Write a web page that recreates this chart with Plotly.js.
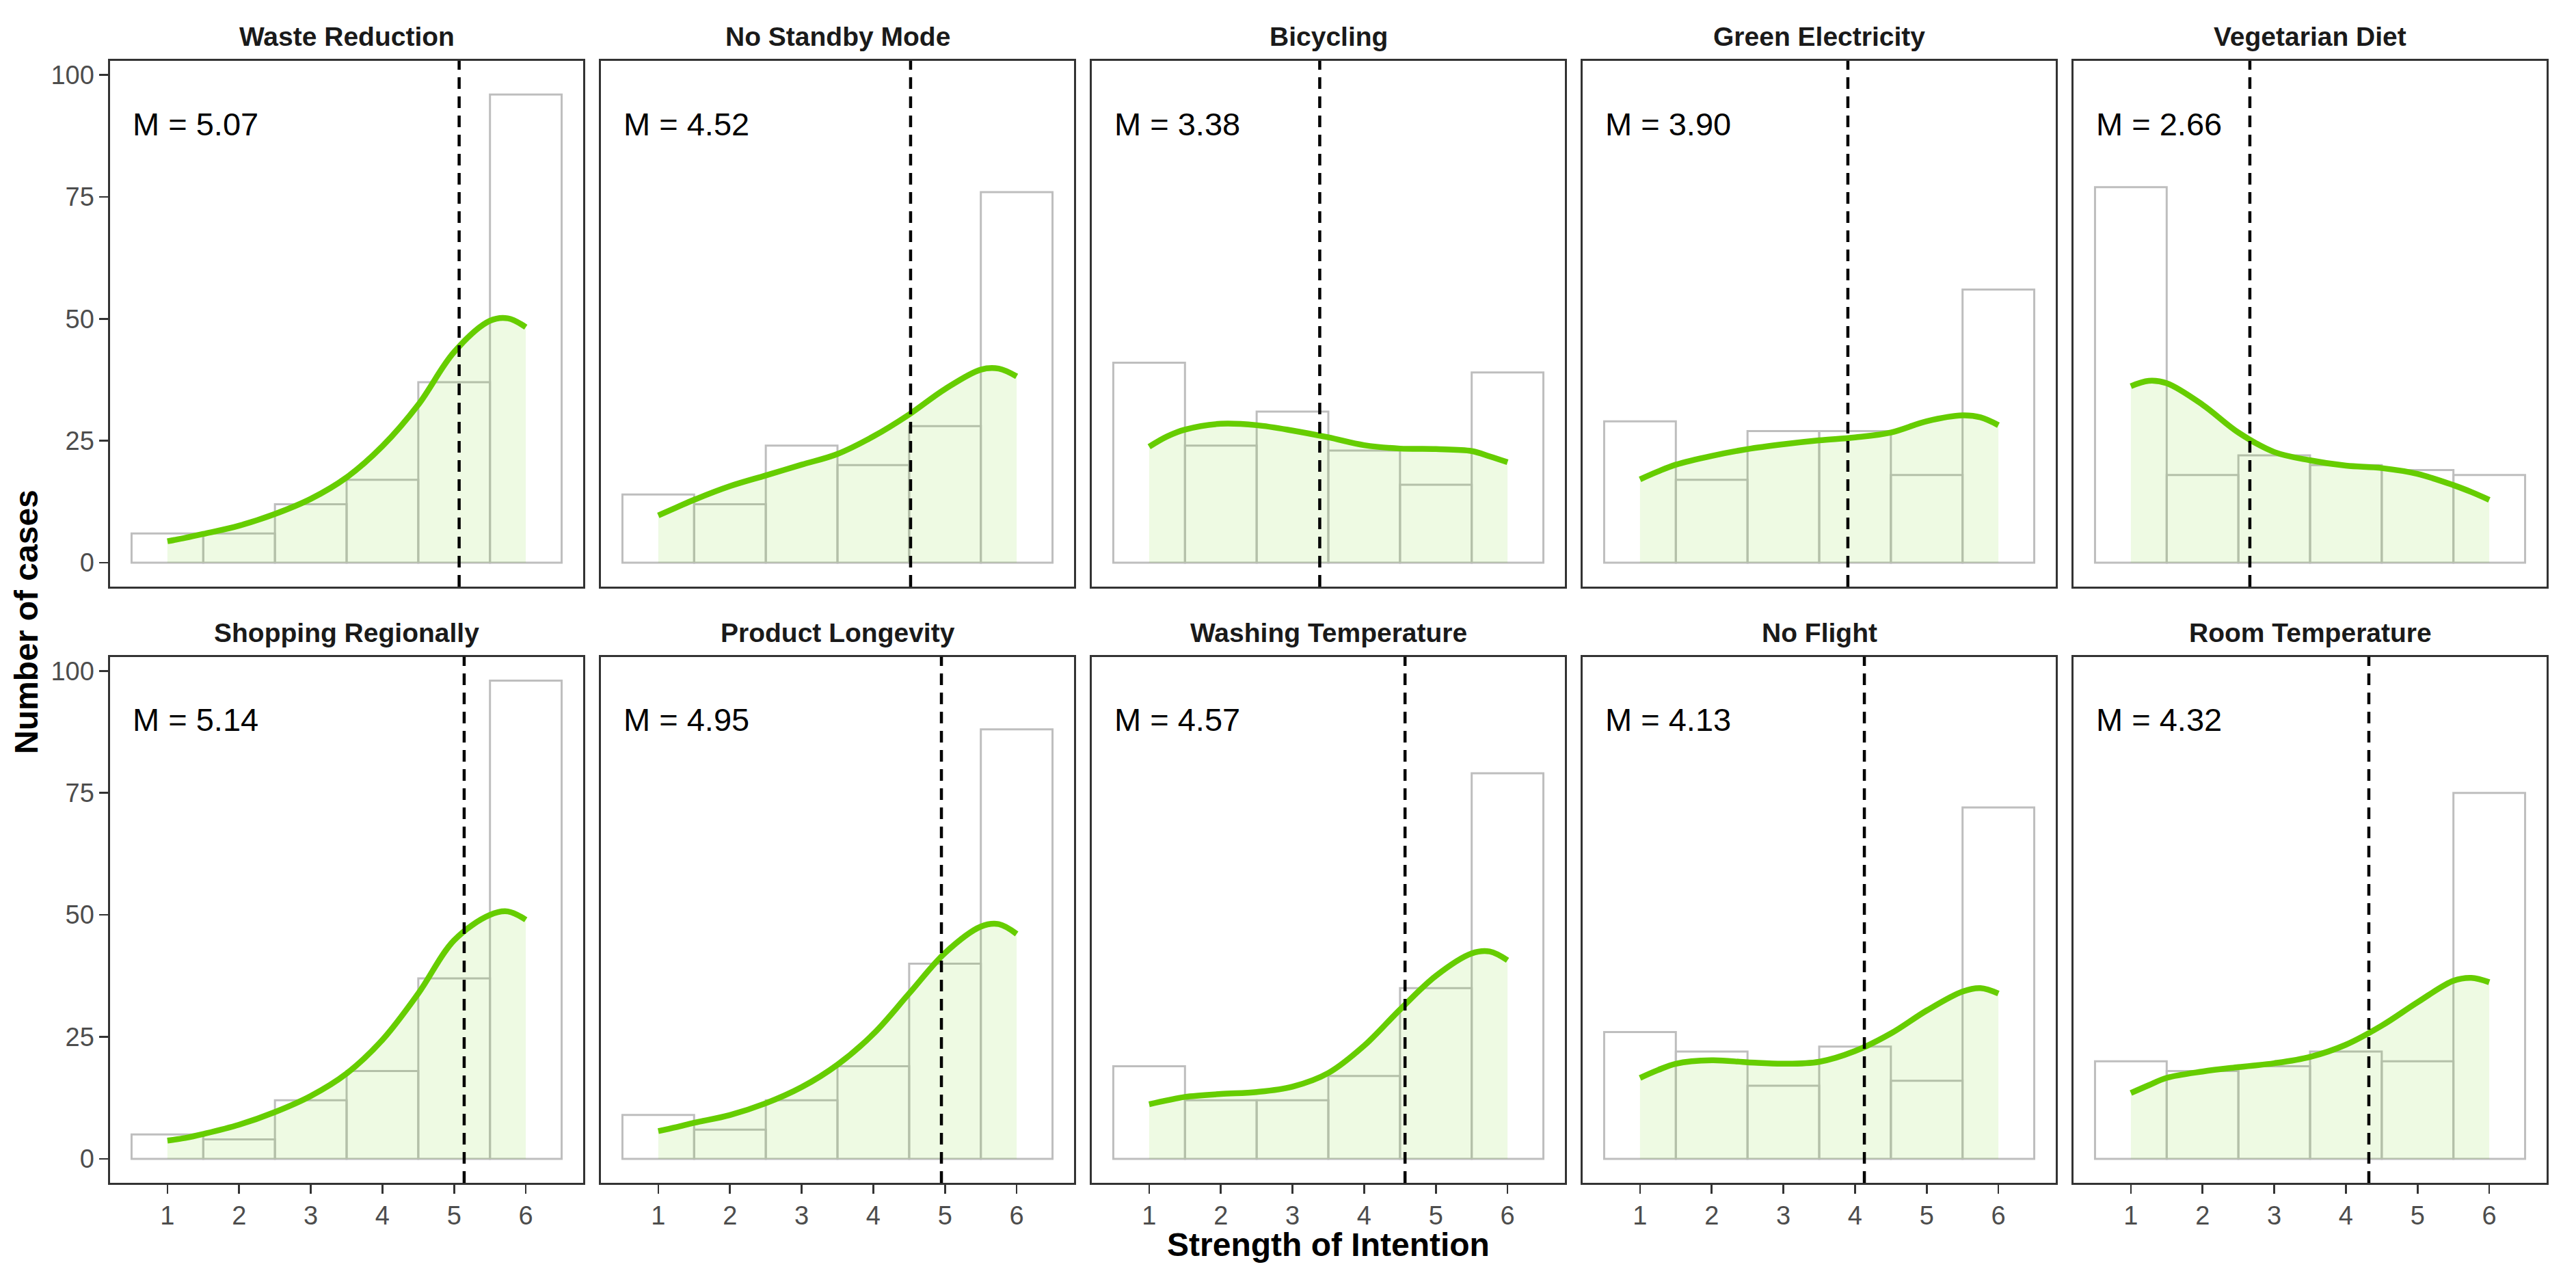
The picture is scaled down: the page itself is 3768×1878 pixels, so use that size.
<!DOCTYPE html>
<html>
<head>
<meta charset="utf-8">
<script src="https://cdn.plot.ly/plotly-3.0.1.min.js"></script>
<style>html,body{margin:0;padding:0;background:#fff;}#chart{width:3768px;height:1878px;}</style>
</head>
<body>
<div id="chart"></div>
<script>
// ---------------- data ----------------
const behaviors = ["Waste Reduction","No Standby Mode","Bicycling","Green Electricity","Vegetarian Diet",
                   "Shopping Regionally","Product Longevity","Washing Temperature","No Flight","Room Temperature"];
const means = [5.07, 4.52, 3.38, 3.90, 2.66, 5.14, 4.95, 4.57, 4.13, 4.32];
const intentionLevels = [1, 2, 3, 4, 5, 6];

const countsWasteReduction     = [6, 6, 12, 17, 37, 96];
const countsNoStandby          = [14, 12, 24, 20, 28, 76];
const countsBicycling          = [41, 24, 31, 23, 16, 39];
const countsGreenElectricity   = [29, 17, 27, 27, 18, 56];
const countsVegetarian         = [77, 18, 22, 20, 19, 18];
const countsShoppingRegionally = [5, 4, 12, 18, 37, 98];
const countsProductLongevity   = [9, 6, 12, 19, 40, 88];
const countsWashingTemperature = [19, 12, 12, 17, 35, 79];
const countsNoFlight           = [26, 22, 15, 23, 16, 72];
const countsRoomTemperature    = [20, 18, 19, 22, 20, 75];

const densityX = [1, 1.25, 1.5, 2, 2.5, 3, 3.5, 4, 4.5, 5, 5.5, 5.75, 6];
const densWasteReduction     = [4.4, 5.1, 5.9, 7.6, 10.0, 13.1, 17.5, 23.9, 32.4, 43.2, 49.6, 50.1, 48.3];
const densNoStandby          = [9.7, 11.3, 12.9, 15.7, 17.9, 20.1, 22.3, 25.9, 30.4, 35.6, 39.6, 39.8, 38.2];
const densBicycling          = [23.8, 25.9, 27.3, 28.5, 28.2, 27.1, 25.7, 24.1, 23.4, 23.3, 22.9, 21.8, 20.6];
const densGreenElectricity   = [17.1, 18.7, 20.1, 21.9, 23.3, 24.3, 25.1, 25.7, 26.7, 29.0, 30.2, 29.8, 28.2];
const densVegetarian         = [36.2, 37.3, 36.8, 32.4, 26.7, 22.7, 21.0, 19.9, 19.4, 18.2, 15.9, 14.5, 12.9];
const densShoppingRegionally = [3.75, 4.3, 5.1, 7.0, 9.6, 12.9, 17.5, 24.4, 33.9, 44.8, 50.0, 50.7, 49.0];
const densProductLongevity   = [5.7, 6.5, 7.4, 9.0, 11.4, 14.7, 19.3, 25.6, 33.9, 42.2, 47.6, 48.1, 46.1];
const densWashingTemperature = [11.2, 12.0, 12.7, 13.3, 13.7, 14.8, 17.6, 23.2, 30.6, 37.5, 42.1, 42.5, 40.7];
const densNoFlight           = [16.6, 18.2, 19.5, 20.2, 19.8, 19.5, 19.9, 22.1, 25.7, 30.4, 34.3, 35.0, 33.9];
const densRoomTemperature    = [13.5, 15.1, 16.6, 17.9, 18.8, 19.6, 20.9, 23.4, 27.3, 32.1, 36.5, 37.1, 36.2];

const yTickVals = [0, 25, 50, 75, 100];
const xTickVals = [1, 2, 3, 4, 5, 6];
const xTitle = "Strength of Intention";
const yTitle = "Number of cases";

// ---------------- build ----------------
const counts = [countsWasteReduction, countsNoStandby, countsBicycling, countsGreenElectricity, countsVegetarian,
                countsShoppingRegionally, countsProductLongevity, countsWashingTemperature, countsNoFlight, countsRoomTemperature];
const dens = [densWasteReduction, densNoStandby, densBicycling, densGreenElectricity, densVegetarian,
              densShoppingRegionally, densProductLongevity, densWashingTemperature, densNoFlight, densRoomTemperature];

const W = 3768, H = 1878;
const cols = [[161, 853], [879, 1571], [1597, 2289], [2315, 3007], [3033, 3725]];
const rows = [[89, 858], [960.5, 1730]];
const stripY = [53, 925];
const FONT = "Liberation Sans, Arial, sans-serif";
const GREEN = "#66CD00";

const data = [];
const layout = {
  width: W, height: H,
  margin: {l: 0, r: 0, t: 0, b: 0},
  paper_bgcolor: "#ffffff", plot_bgcolor: "#ffffff",
  showlegend: false,
  annotations: [], shapes: []
};

for (let i = 0; i < 10; i++) {
  const r = Math.floor(i / 5), c = i % 5;
  const sfx = i === 0 ? "" : String(i + 1);
  const xa = "x" + sfx, ya = "y" + sfx;

  data.push({
    type: "scatter", mode: "lines", x: densityX, y: dens[i], xaxis: xa, yaxis: ya,
    line: {width: 0, shape: "spline", color: "rgba(0,0,0,0)"},
    fill: "tozeroy", fillcolor: "rgba(102,205,0,0.11)", hoverinfo: "skip"
  });
  data.push({
    type: "bar", x: intentionLevels, y: counts[i], xaxis: xa, yaxis: ya, width: 1,
    marker: {color: "rgba(0,0,0,0)", line: {color: "#BEBEBE", width: 3}}, hoverinfo: "skip"
  });
  data.push({
    type: "scatter", mode: "lines", x: densityX, y: dens[i], xaxis: xa, yaxis: ya,
    line: {width: 8.5, shape: "spline", color: GREEN}, hoverinfo: "skip"
  });

  const xd = [cols[c][0] / W, cols[c][1] / W];
  const yd = [1 - rows[r][1] / H, 1 - rows[r][0] / H];
  const isBottom = r === 1, isLeft = c === 0;

  layout["xaxis" + sfx] = {
    domain: xd, anchor: ya, range: [0.2, 6.8],
    showgrid: false, zeroline: false,
    showline: true, mirror: true, linecolor: "#333333", linewidth: 2.6,
    tickmode: "array", tickvals: xTickVals,
    ticks: isBottom ? "outside" : "", ticklen: 13, tickwidth: 2.6, tickcolor: "#333333",
    showticklabels: isBottom,
    tickfont: {family: FONT, size: 38, color: "#4D4D4D"}
  };
  layout["yaxis" + sfx] = {
    domain: yd, anchor: xa, range: [-4.9, 102.9],
    showgrid: false, zeroline: false,
    showline: true, mirror: true, linecolor: "#333333", linewidth: 2.6,
    tickmode: "array", tickvals: yTickVals,
    ticks: isLeft ? "outside" : "", ticklen: 13, tickwidth: 2.6, tickcolor: "#333333",
    showticklabels: isLeft,
    tickfont: {family: FONT, size: 38, color: "#4D4D4D"}
  };

  // mean line
  layout.shapes.push({
    type: "line", xref: xa, yref: ya + " domain", x0: means[i], x1: means[i], y0: 0, y1: 1,
    line: {color: "#000000", width: 4.5, dash: "17px,11px"}
  });
  // mean label
  layout.annotations.push({
    xref: xa, yref: ya, x: 0.5, y: 90, xanchor: "left", yanchor: "middle",
    text: "M = " + means[i].toFixed(2), showarrow: false,
    font: {family: FONT, size: 47, color: "#000000"}
  });
  // strip title
  layout.annotations.push({
    xref: "paper", yref: "paper", x: (cols[c][0] + cols[c][1]) / 2 / W, y: 1 - stripY[r] / H,
    xanchor: "center", yanchor: "middle", text: "<b>" + behaviors[i] + "</b>", showarrow: false,
    font: {family: FONT, size: 39, color: "#1A1A1A"}
  });
}

layout.annotations.push({
  xref: "paper", yref: "paper", x: 1943 / W, y: 1 - 1820 / H, xanchor: "center", yanchor: "middle",
  text: "<b>" + xTitle + "</b>", showarrow: false, font: {family: FONT, size: 48, color: "#000000"}
});
layout.annotations.push({
  xref: "paper", yref: "paper", x: 38 / W, y: 1 - 910 / H, xanchor: "center", yanchor: "middle",
  text: "<b>" + yTitle + "</b>", textangle: -90, showarrow: false, font: {family: FONT, size: 48, color: "#000000"}
});

Plotly.newPlot("chart", data, layout, {displayModeBar: false, staticPlot: true});
</script>
</body>
</html>
